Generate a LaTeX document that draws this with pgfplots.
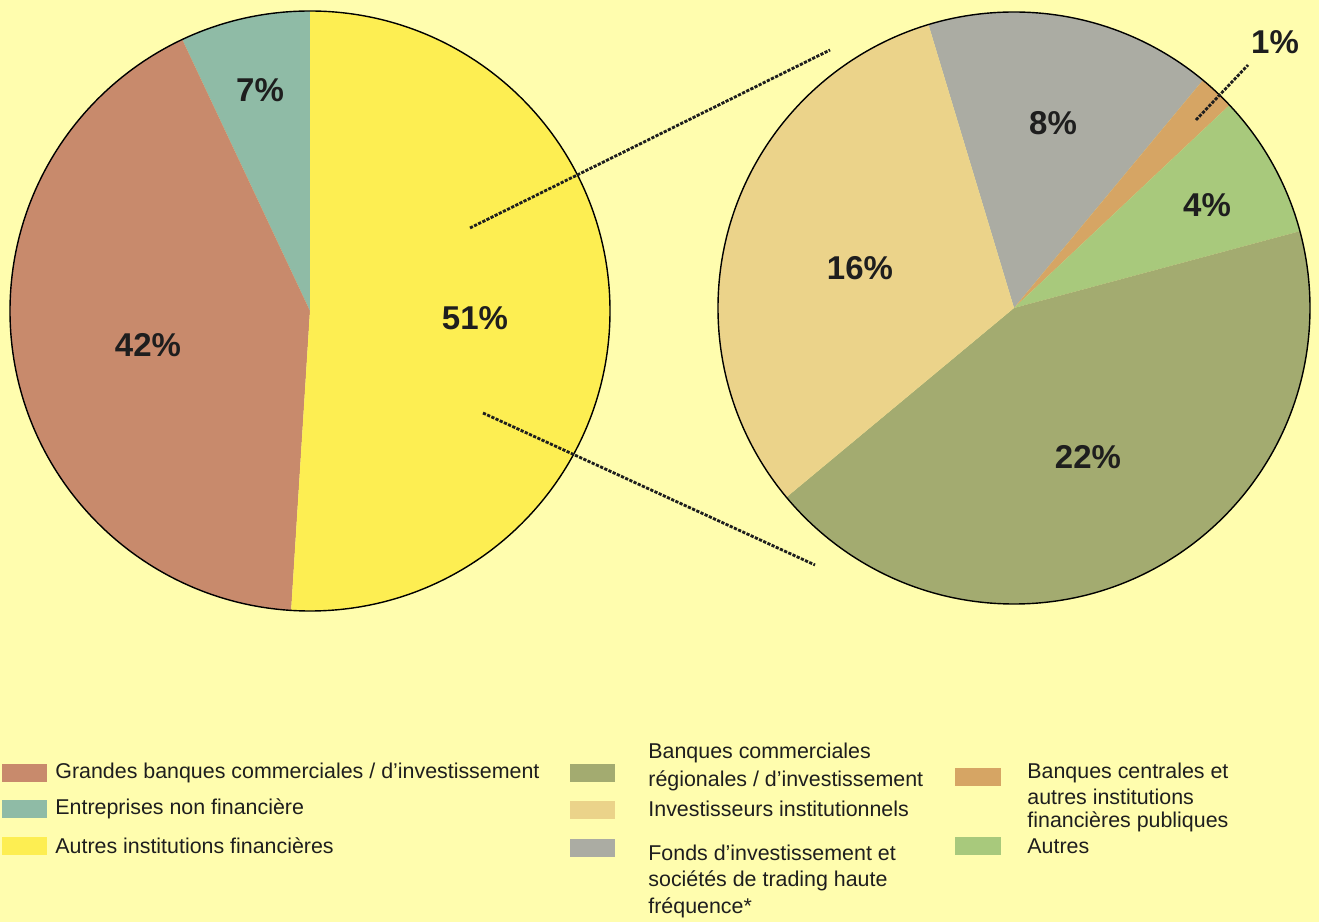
\documentclass[border=0pt]{standalone}
\usepackage{pgfplots}
\pgfplotsset{compat=1.18}
\usepackage{fontspec}
\setmainfont{Liberation Sans}
\definecolor{bg}{HTML}{FFFDAE}
\definecolor{csalmon}{HTML}{C88A6C}
\definecolor{cteal}{HTML}{8FBBA6}
\definecolor{cyellow}{HTML}{FDEE52}
\definecolor{colive}{HTML}{A3AB70}
\definecolor{ctan}{HTML}{EBD38A}
\definecolor{cgray}{HTML}{ABACA3}
\definecolor{corange}{HTML}{D6A564}
\definecolor{cgreen}{HTML}{A8C97C}
\definecolor{txt}{HTML}{1E1E1E}
\begin{document}
\begin{tikzpicture}
\begin{axis}[x=0.5pt,y=0.5pt,xmin=0,xmax=1319,ymin=0,ymax=922,
  hide axis, scale only axis, clip=false]
\coordinate (bl) at (axis cs:0,0);
\coordinate (tr) at (axis cs:1319,922);
% background
\fill[bg] (axis cs:0,0) rectangle (axis cs:1319,922);
% ---- left pie: shares 7, 42, 51 (percent), start at 90 deg ----
\fill[cteal]   (axis cs:310,611) -- ++(90:150pt) arc[start angle=90, end angle={90+7*3.6}, radius=150pt] -- cycle;
\fill[csalmon] (axis cs:310,611) -- ++({90+7*3.6}:150pt) arc[start angle={90+7*3.6}, end angle={90+49*3.6}, radius=150pt] -- cycle;
\fill[cyellow] (axis cs:310,611) -- ++({90+49*3.6}:150pt) arc[start angle={90+49*3.6}, end angle={90+100*3.6}, radius=150pt] -- cycle;
\draw[black, line width=0.7pt] (axis cs:310,611) circle[radius=150pt];
% ---- right pie: shares of 51: gray 8, orange 1, green 4, olive 22, tan 16 ----
\fill[cgray]   (axis cs:1014,614) -- ++(106.8:148pt) arc[start angle=106.8, end angle={106.8-8/51*360}, radius=148pt] -- cycle;
\fill[corange] (axis cs:1014,614) -- ++({106.8-8/51*360}:148pt) arc[start angle={106.8-8/51*360}, end angle={106.8-9/51*360}, radius=148pt] -- cycle;
\fill[cgreen]  (axis cs:1014,614) -- ++({106.8-9/51*360}:148pt) arc[start angle={106.8-9/51*360}, end angle={106.8-13/51*360}, radius=148pt] -- cycle;
\fill[colive]  (axis cs:1014,614) -- ++({106.8-13/51*360}:148pt) arc[start angle={106.8-13/51*360}, end angle={106.8-35/51*360}, radius=148pt] -- cycle;
\fill[ctan]    (axis cs:1014,614) -- ++({106.8-35/51*360}:148pt) arc[start angle={106.8-35/51*360}, end angle={106.8-51/51*360}, radius=148pt] -- cycle;
\draw[black, line width=0.7pt] (axis cs:1014,614) circle[radius=148pt];
% connector lines
\draw[txt, line width=1.4pt, dash pattern=on 1.6pt off 0.7pt] (axis cs:470,694) -- (axis cs:830,872);
\draw[txt, line width=1.4pt, dash pattern=on 1.6pt off 0.7pt] (axis cs:483,509) -- (axis cs:815,357);
\draw[txt, line width=1.4pt, dash pattern=on 1.6pt off 0.7pt] (axis cs:1196,802) -- (axis cs:1248,857);
% percent labels
\begin{scope}[every node/.style={font=\fontsize{16.5}{18}\selectfont\bfseries, text=txt, inner sep=0pt}]
\node at (axis cs:260,832) {7\%};
\node at (axis cs:148,577) {42\%};
\node at (axis cs:475,604) {51\%};
\node at (axis cs:1053,799) {8\%};
\node at (axis cs:860,654) {16\%};
\node at (axis cs:1207,717) {4\%};
\node at (axis cs:1088,465) {22\%};
\node at (axis cs:1275,880) {1\%};
\end{scope}
% legend
\begin{scope}[every node/.style={font=\fontsize{10.7}{12}\selectfont, text=txt, inner sep=0pt, anchor=west}]
\fill[csalmon] (axis cs:2,140) rectangle (axis cs:47,158);
\fill[cteal]   (axis cs:2,104) rectangle (axis cs:47,122);
\fill[cyellow] (axis cs:2,67) rectangle (axis cs:47,85);
\node at (axis cs:55,149) {Grandes banques commerciales / d’investissement};
\node at (axis cs:55,113) {Entreprises non financière};
\node at (axis cs:55,76) {Autres institutions financières};
\fill[colive] (axis cs:570,140) rectangle (axis cs:615,158);
\fill[ctan]   (axis cs:570,103) rectangle (axis cs:615,121);
\fill[cgray]  (axis cs:570,65) rectangle (axis cs:615,83);
\node at (axis cs:648,169) {Banques commerciales};
\node at (axis cs:648,141) {régionales / d’investissement};
\node at (axis cs:648,113) {Investisseurs institutionnels};
\node at (axis cs:648,69) {Fonds d’investissement et};
\node at (axis cs:648,41) {sociétés de trading haute};
\node at (axis cs:648,14) {fréquence*};
\fill[corange] (axis cs:955,136) rectangle (axis cs:1001,154);
\fill[cgreen]  (axis cs:955,67) rectangle (axis cs:1001,85);
\node at (axis cs:1027,149) {Banques centrales et};
\node at (axis cs:1027,125) {autres institutions};
\node at (axis cs:1027,100) {financières publiques};
\node at (axis cs:1027,76) {Autres};
\end{scope}
\end{axis}
\pgfresetboundingbox
\useasboundingbox (bl) rectangle (tr);
\end{tikzpicture}
\end{document}
